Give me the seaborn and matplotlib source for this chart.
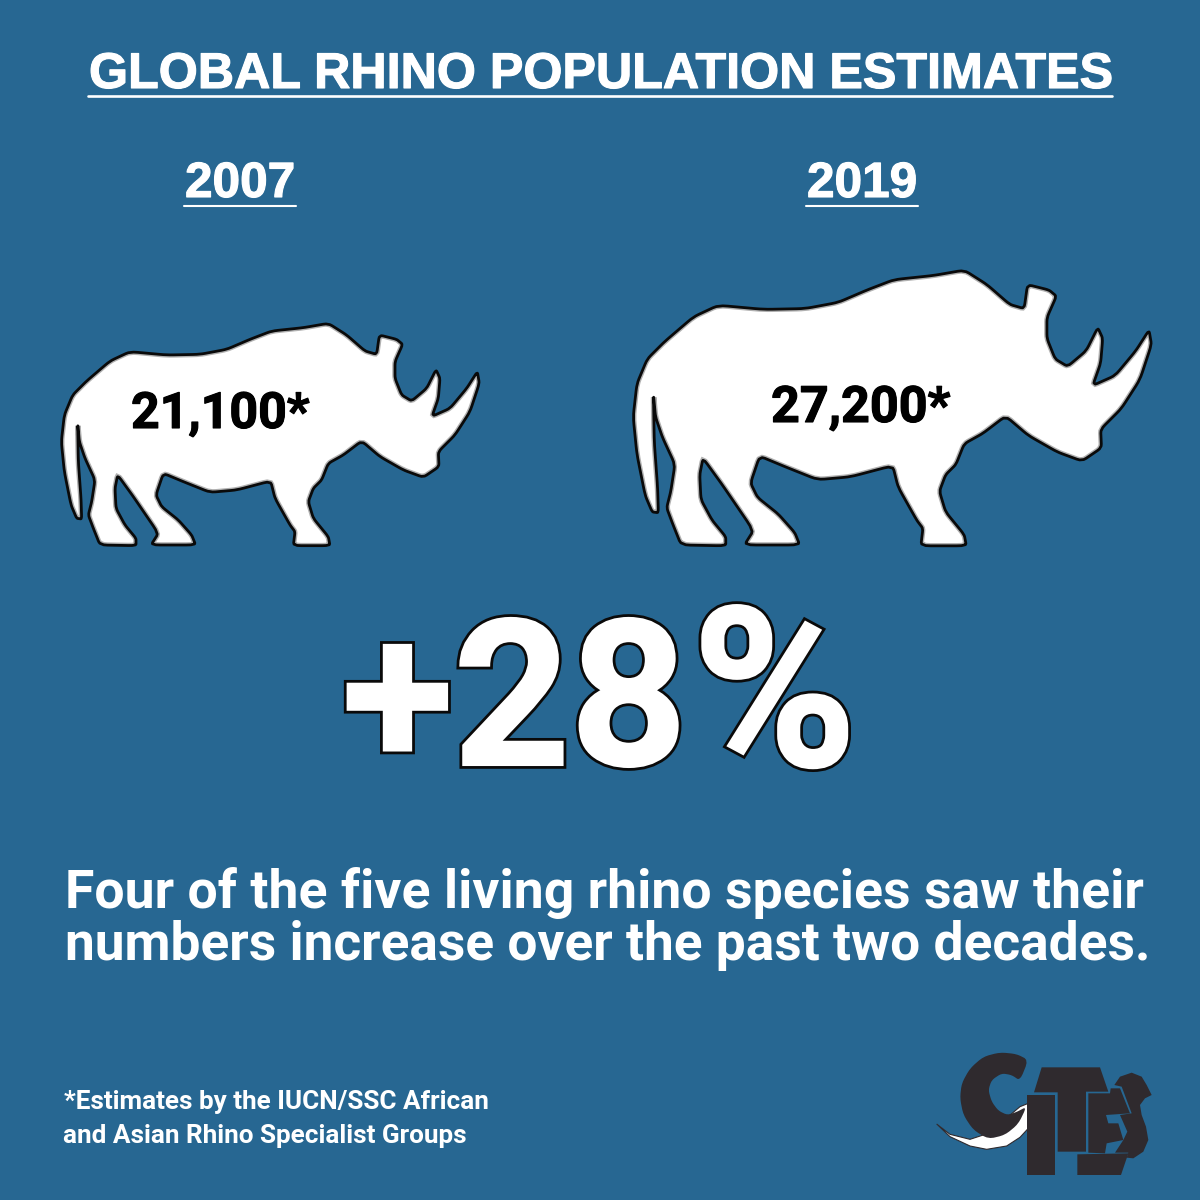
import matplotlib
matplotlib.use("Agg")
import matplotlib.pyplot as plt
import matplotlib.patheffects as pe
from matplotlib.patches import PathPatch, Polygon
from matplotlib.path import Path
import numpy as np
import seaborn as sns

years = ["2007", "2019"]
populations = [21100, 27200]
change_parts = ["+28", "%"]
title = "GLOBAL RHINO POPULATION ESTIMATES"
body_lines = ["Four of the five living rhino species saw their",
              "numbers increase over the past two decades."]
foot_lines = ["*Estimates by the IUCN/SSC African",
              "and Asian Rhino Specialist Groups"]

BG = "#276792"
LOGO = "#2f2a2e"

# rhino outline traced off the 2007 one, 3x zoom pixels
rhino = np.array([
    (83, 335), (88, 390), (105, 440), (135, 505), (125, 570), (115, 610), (130, 650), (150, 700),
    (258, 702), (258, 680), (225, 640), (198, 590), (195, 530), (203, 490), (250, 555), (325, 665),
    (303, 700), (437, 700), (425, 670), (385, 625), (335, 585), (318, 550), (340, 485), (400, 510),
    (480, 542), (560, 535), (662, 508), (675, 560), (720, 640), (735, 660), (730, 702), (840, 702),
    (835, 675), (790, 620), (775, 570), (790, 530), (815, 505), (835, 455), (880, 430), (935, 388),
    (990, 435), (1060, 475), (1120, 497), (1167, 465), (1165, 420), (1215, 370), (1260, 300), (1288, 215),
    (1282, 180), (1250, 230), (1200, 290), (1146, 314), (1165, 260), (1170, 200), (1158, 174), (1130, 230),
    (1085, 268), (1055, 250), (1035, 200), (1035, 150), (1058, 98), (1040, 83), (988, 70), (980, 128),
    (945, 118), (890, 70), (835, 35), (760, 48), (665, 58), (600, 83), (530, 113), (450, 128),
    (350, 130), (240, 120), (180, 148), (110, 208), (68, 250), (43, 310), (34, 390), (43, 480),
    (63, 580), (80, 620), (95, 622), (93, 560), (85, 450),
], dtype=float)


def smooth(pts, n=2, cut=0.12):
    # chaikin corner cutting, just so the outline isn't so faceted
    for _ in range(n):
        nxt = np.roll(pts, -1, axis=0)
        pts = np.column_stack([(1 - cut) * pts + cut * nxt, cut * pts + (1 - cut) * nxt]).reshape(-1, 2)
    return pts


def draw_rhino(ax, x0, y_foot, scale):
    pts = smooth(rhino)
    pts = np.column_stack([x0 + (pts[:, 0] - 36) / 3 * scale,
                           y_foot + (pts[:, 1] - 700) / 3 * scale])
    path = Path(np.vstack([pts, pts[0]]), closed=True)
    ax.add_patch(PathPatch(path, fc="white", ec="none", zorder=2))
    inner = PathPatch(path, fc="none", ec="#b0b0b0", lw=4.0, zorder=3)
    ax.add_patch(inner)
    inner.set_clip_path(path, ax.transData)
    ax.add_patch(PathPatch(path, fc="none", ec="#0a0a0a", lw=2.0, joinstyle="round", zorder=4))


def fit_text(ax, x_left, x_right, y, s, font, weight="bold", **kw):
    # font size from the width the text has in the reference
    t = ax.text(x_left, y, s, family=font, fontweight=weight, va="baseline", ha="left", fontsize=30, **kw)
    w = t.get_window_extent(ax.figure.canvas.get_renderer()).width
    t.set_fontsize(30 * (x_right - x_left) / w)
    return t


def logo_poly(ax, pts, color=LOGO, zorder=5, round_it=False, **kw):
    pts = np.array(pts, dtype=float)
    if round_it:
        pts = smooth(pts, n=2, cut=0.2)
    pts = np.column_stack([920 + pts[:, 0] / 3, 1040 + pts[:, 1] / 3])
    ax.add_patch(Polygon(pts, closed=True, fc=color, ec=kw.get("ec", "none"), lw=kw.get("lw", 0), zorder=zorder))


sns.set_theme(style="white", rc={"figure.facecolor": BG, "axes.facecolor": BG})

fig, ax = plt.subplots(figsize=(12, 12), dpi=100)
fig.subplots_adjust(0, 0, 1, 1)
ax.set_xlim(0, 1200)
ax.set_ylim(1200, 0)
ax.axis("off")

heavy = [pe.withStroke(linewidth=0.8, foreground="white")]

# heading
t = fit_text(ax, 89, 1111, 88, title, "Liberation Sans", color="white")
t.set_path_effects(heavy)
ax.plot([88, 1112], [95.5, 95.5], color="white", lw=1.9)

# the two years
year_spans = [(185, 295), (807, 917)]
for yr, (a, b) in zip(years, year_spans):
    t = fit_text(ax, a, b, 197, yr, "Liberation Sans", color="white")
    t.set_path_effects(heavy)
    ax.plot([a - 1, b + 1], [206, 206], color="white", lw=1.5)

draw_rhino(ax, 62, 545, 1.0)
draw_rhino(ax, 634, 545, 1.24)

label_spans = [(131, 310, 428), (771, 951, 422)]
for pop, (a, b, y) in zip(populations, label_spans):
    t = fit_text(ax, a, b, y, f"{pop:,}*", "Roboto", color="black", zorder=6)
    t.set_path_effects([pe.withStroke(linewidth=0.8, foreground="black")])

# big change figure, the % sign runs taller than the digits in the original
outline = [pe.withStroke(linewidth=5.5, foreground="#0a0a0a", joinstyle="miter"),
           pe.withStroke(linewidth=1.5, foreground="white", joinstyle="miter")]
big = fit_text(ax, 342, 687, 765, change_parts[0], "Roboto", color="white", zorder=6)
pct = fit_text(ax, 692, 856, 766, change_parts[1], "Roboto", color="white", zorder=6)
big.set_path_effects(outline)
pct.set_path_effects(outline)

for line, (a, b), y in zip(body_lines, [(65, 1140), (65, 1148)], [908, 960]):
    fit_text(ax, a, b, y, line, "Roboto", color="white")

for line, (a, b), y in zip(foot_lines, [(64, 490), (63, 466)], [1109, 1143]):
    fit_text(ax, a, b, y, line, "Roboto", color="white")

# CITES logo
logo_poly(ax, [(50, 252), (90, 290), (150, 318), (200, 328), (260, 318), (300, 292), (325, 265), (325, 190),
               (300, 200), (205, 280), (150, 298), (90, 283)], color="white", zorder=4, ec=LOGO, lw=0.8)
logo_poly(ax, [(325, 60), (290, 42), (240, 37), (190, 50), (150, 85), (125, 130), (120, 175), (130, 225),
               (160, 270), (205, 297), (255, 285), (295, 252), (320, 200), (290, 216), (262, 225), (235, 212),
               (215, 185), (205, 150), (215, 120), (245, 100), (275, 105), (300, 122)], round_it=True)
logo_poly(ax, [(322, 165), (405, 165), (405, 405), (322, 405)])
logo_poly(ax, [(365, 82), (540, 82), (565, 155), (498, 155), (498, 335), (413, 335), (413, 157), (342, 157)])
logo_poly(ax, [(505, 160), (570, 160), (572, 145), (600, 145), (630, 220), (558, 225), (565, 250), (595, 250),
               (610, 300), (560, 310), (555, 340), (505, 338)])
logo_poly(ax, [(472, 343), (625, 340), (603, 405), (472, 405)])
logo_poly(ax, [(583, 135), (600, 110), (635, 98), (665, 110), (680, 135), (695, 165), (675, 175), (660, 195),
               (665, 225), (678, 260), (685, 300), (670, 335), (640, 355), (620, 353), (625, 338), (585, 338),
               (610, 300), (622, 275), (600, 225), (635, 220), (605, 140)])

fig.savefig("out.png", dpi=100, facecolor=BG)
